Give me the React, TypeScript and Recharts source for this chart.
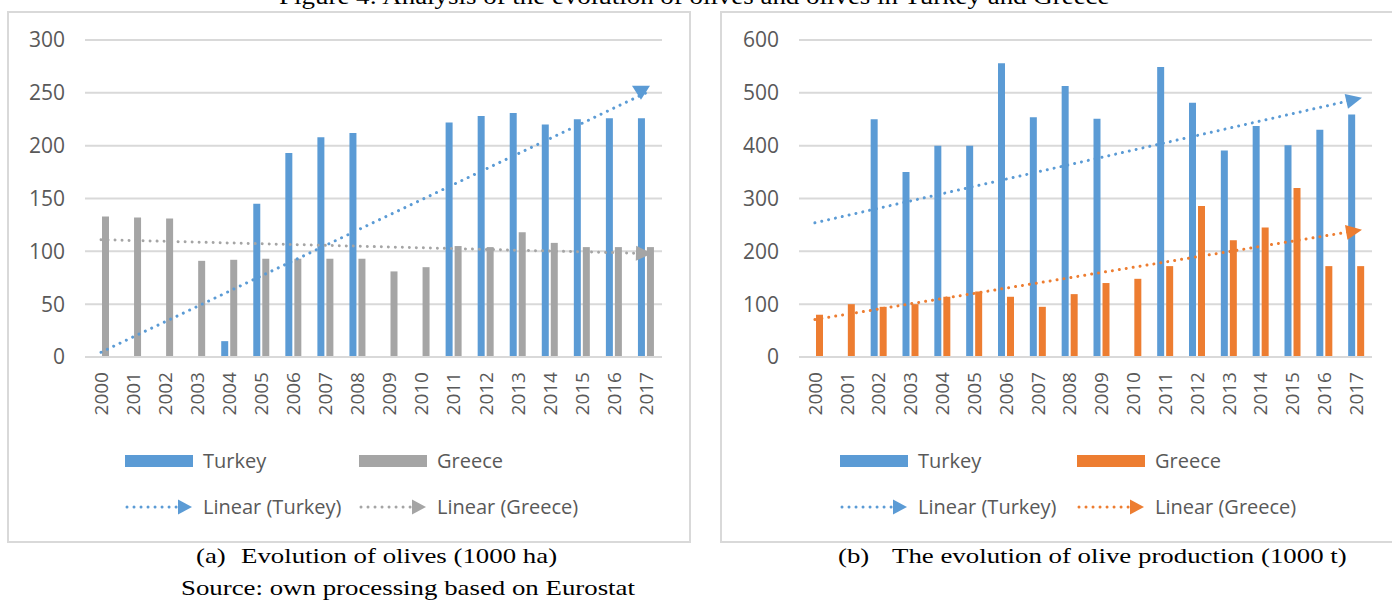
import React from 'react';
import { ComposedChart, Bar, Line, XAxis, YAxis, CartesianGrid, Legend } from 'recharts';

// ---------- data ----------
const years = ['2000', '2001', '2002', '2003', '2004', '2005', '2006', '2007', '2008', '2009', '2010', '2011', '2012', '2013', '2014', '2015', '2016', '2017'];

// (a) area, 1000 ha
const areaTurkey = [null, null, null, null, 15, 145, 193, 208, 212, null, null, 222, 228, 231, 220, 225, 226, 226];
const areaGreece = [133, 132, 131, 91, 92, 93, 93, 93, 93, 81, 85, 105, 104, 118, 108, 104, 104, 104];
const areaTrendTurkey = [4.5, 250]; // start (2000), end (2017)
const areaTrendGreece = [111, 98];
const areaTicks = [0, 50, 100, 150, 200, 250, 300];

// (b) production, 1000 t
const prodTurkey = [null, null, 450, 350, 400, 400, 556, 454, 513, 451, null, 549, 481, 391, 437, 401, 430, 459];
const prodGreece = [80, 100, 95, 100, 114, 124, 114, 95, 119, 140, 148, 172, 286, 221, 245, 320, 172, 172];
const prodTrendTurkey = [254, 488];
const prodTrendGreece = [71, 239];
const prodTicks = [0, 100, 200, 300, 400, 500, 600];

const titleText = 'Figure 4: Analysis of the evolution of olives and olives in Turkey and Greece';

// ---------- styles ----------
const BLUE = '#5B9BD5';
const GRAY = '#A5A5A5';
const ORANGE = '#ED7D31';
const TEXT = '#595959';
const GRID = '#D9D9D9';
const FONT = '"Open Sans", Lato, sans-serif';
const SERIF = '"Liberation Serif", "Times New Roman", serif';

function buildRows(a: (number | null)[], b: (number | null)[], ta: number[], tb: number[]) {
  const last = years.length - 1;
  return years.map((y, i) => ({
    year: y,
    turkey: a[i],
    greece: b[i],
    trendTurkey: i === 0 ? ta[0] : i === last ? ta[1] : null,
    trendGreece: i === 0 ? tb[0] : i === last ? tb[1] : null,
  }));
}

const makeArrow = (color: string, fixedAngle?: number) => (props: any) => {
  const { cx, cy, index, points } = props;
  const last = years.length - 1;
  if (cx == null || cy == null || index !== last) return <g key={`d-${index}`} />;
  let ang = 0;
  if (fixedAngle != null) {
    ang = fixedAngle;
  } else if (points && points.length) {
    const p0 = points.find((p: any) => p && p.y != null);
    if (p0) ang = Math.atan2(cy - p0.y, cx - p0.x);
  }
  const dx = Math.cos(ang);
  const dy = Math.sin(ang);
  const nx = -dy;
  const ny = dx;
  const back = fixedAngle != null ? 7 : 10;
  const fwd = fixedAngle != null ? 7 : 6;
  const hw = fixedAngle != null ? 9 : 7.5;
  const ox = fixedAngle != null ? -5 : 0;
  const bx = cx + ox - dx * back;
  const by = cy - dy * back;
  const tx = cx + ox + dx * fwd;
  const ty = cy + dy * fwd;
  const pts = `${bx + nx * hw},${by + ny * hw} ${bx - nx * hw},${by - ny * hw} ${tx},${ty}`;
  return <polygon key={`d-${index}`} points={pts} fill={color} />;
};

const XTick = (props: any) => {
  const { x, y, payload } = props;
  return (
    <text
      x={0}
      y={0}
      transform={`translate(${x},${y + 15}) rotate(-90)`}
      textAnchor="end"
      dy="0.36em"
      fill={TEXT}
      fontSize={19}
      fontFamily={FONT}
    >
      {payload.value}
    </text>
  );
};

type LegendItem = { label: string; color: string; kind: 'bar' | 'trend'; x: number; row: number };

const makeLegend = (items: LegendItem[]) => () => (
  <div style={{ position: 'relative', width: '100%', height: 100 }}>
    {items.map((it) => (
      <div
        key={it.label}
        style={{
          position: 'absolute',
          left: it.x,
          top: it.row === 0 ? 0 : 46,
          height: 24,
          display: 'flex',
          alignItems: 'center',
          whiteSpace: 'nowrap',
        }}
      >
        <svg width={70} height={16} style={{ display: 'block' }}>
          {it.kind === 'bar' ? (
            <rect x={0} y={2} width={68} height={12} fill={it.color} />
          ) : (
            <g>
              <line x1={2} y1={8} x2={52} y2={8} stroke={it.color} strokeWidth={3} strokeDasharray="0.01 7" strokeLinecap="round" />
              <polygon points="53,0.5 53,15.5 67,8" fill={it.color} />
            </g>
          )}
        </svg>
        <span style={{ marginLeft: 8, fontFamily: FONT, fontSize: 20, color: TEXT, lineHeight: '24px' }}>{it.label}</span>
      </div>
    ))}
  </div>
);

type PanelProps = {
  rows: any[];
  ticks: number[];
  greeceColor: string;
  width: number;
  yWidth: number;
  marginRight: number;
  legendX: [number, number];
  turkeyArrowAngle?: number;
};

const Panel = ({ rows, ticks, greeceColor, width, yWidth, marginRight, legendX, turkeyArrowAngle }: PanelProps) => {
  const legendItems: LegendItem[] = [
    { label: 'Turkey', color: BLUE, kind: 'bar', x: legendX[0], row: 0 },
    { label: 'Greece', color: greeceColor, kind: 'bar', x: legendX[1], row: 0 },
    { label: 'Linear (Turkey)', color: BLUE, kind: 'trend', x: legendX[0], row: 1 },
    { label: 'Linear (Greece)', color: greeceColor, kind: 'trend', x: legendX[1], row: 1 },
  ];
  return (
    <ComposedChart
      width={width}
      height={529}
      data={rows}
      margin={{ top: 28, right: marginRight, bottom: 124, left: 0 }}
      barSize={7}
      barGap={2}
    >
      <CartesianGrid vertical={false} stroke={GRID} strokeWidth={2} />
      <XAxis
        dataKey="year"
        interval={0}
        tick={<XTick />}
        tickLine={false}
        tickSize={0}
        tickMargin={0}
        height={60}
        axisLine={{ stroke: GRID, strokeWidth: 2 }}
      />
      <YAxis
        domain={[ticks[0], ticks[ticks.length - 1]]}
        ticks={ticks}
        interval={0}
        width={yWidth}
        axisLine={false}
        tickLine={false}
        tickSize={0}
        tickMargin={20}
        tick={{ fill: TEXT, fontSize: 21, fontFamily: FONT }}
      />
      <Bar dataKey="turkey" name="Turkey" fill={BLUE} isAnimationActive={false} />
      <Bar dataKey="greece" name="Greece" fill={greeceColor} isAnimationActive={false} />
      <Line
        dataKey="trendTurkey"
        name="Linear (Turkey)"
        connectNulls
        stroke={BLUE}
        strokeWidth={3}
        strokeDasharray="0.01 7"
        strokeLinecap="round"
        dot={makeArrow(BLUE, turkeyArrowAngle)}
        activeDot={false}
        isAnimationActive={false}
      />
      <Line
        dataKey="trendGreece"
        name="Linear (Greece)"
        connectNulls
        stroke={greeceColor}
        strokeWidth={3}
        strokeDasharray="0.01 7"
        strokeLinecap="round"
        dot={makeArrow(greeceColor)}
        activeDot={false}
        isAnimationActive={false}
      />
      <Legend
        layout="horizontal"
        verticalAlign="middle"
        align="center"
        content={makeLegend(legendItems)}
        wrapperStyle={{ left: 0, top: 437, width: width, height: 100 }}
      />
    </ComposedChart>
  );
};

const capStyle: React.CSSProperties = {
  position: 'absolute',
  display: 'inline-block',
  transform: 'scaleX(1.22)',
  transformOrigin: 'left center',
};

export default function App() {
  const areaRows = buildRows(areaTurkey, areaGreece, areaTrendTurkey, areaTrendGreece);
  const prodRows = buildRows(prodTurkey, prodGreece, prodTrendTurkey, prodTrendGreece);
  return (
    <div style={{ position: 'absolute', left: 0, top: 0, width: 1392, height: 601, overflow: 'hidden', background: '#fff' }}>
      <div
        style={{
          position: 'absolute',
          left: 0,
          top: -15,
          width: 1392,
          textAlign: 'center',
          fontFamily: SERIF,
          fontSize: 23,
          lineHeight: '24px',
          color: '#000',
          whiteSpace: 'nowrap',
          transform: 'scaleX(1.17)',
          transformOrigin: '706px 0',
        }}
      >
        {titleText}
      </div>

      <div style={{ position: 'absolute', left: 7, top: 11, width: 680, height: 528, border: `2px solid ${GRID}` }} />
      <div style={{ position: 'absolute', left: 720, top: 11, width: 700, height: 528, border: `2px solid ${GRID}` }} />

      <div style={{ position: 'absolute', left: 8, top: 12 }}>
        <Panel
          rows={areaRows}
          ticks={areaTicks}
          greeceColor={GRAY}
          width={682}
          yWidth={77}
          marginRight={28}
          legendX={[117, 351]}
          turkeyArrowAngle={Math.PI / 2}
        />
      </div>
      <div style={{ position: 'absolute', left: 720, top: 12 }}>
        <Panel
          rows={prodRows}
          ticks={prodTicks}
          greeceColor={ORANGE}
          width={680}
          yWidth={79}
          marginRight={28}
          legendX={[120, 357]}
        />
      </div>

      <div style={{ position: 'absolute', top: 543, left: 0, fontFamily: SERIF, fontSize: 22, lineHeight: '26px', whiteSpace: 'nowrap' }}>
        <span style={{ ...capStyle, left: 196 }}>(a)</span>
        <span style={{ ...capStyle, left: 241 }}>Evolution of olives (1000 ha)</span>
        <span style={{ ...capStyle, left: 181, top: 32 }}>Source: own processing based on Eurostat</span>
        <span style={{ ...capStyle, left: 838 }}>(b)</span>
        <span style={{ ...capStyle, left: 892 }}>The evolution of olive production (1000 t)</span>
      </div>
    </div>
  );
}
